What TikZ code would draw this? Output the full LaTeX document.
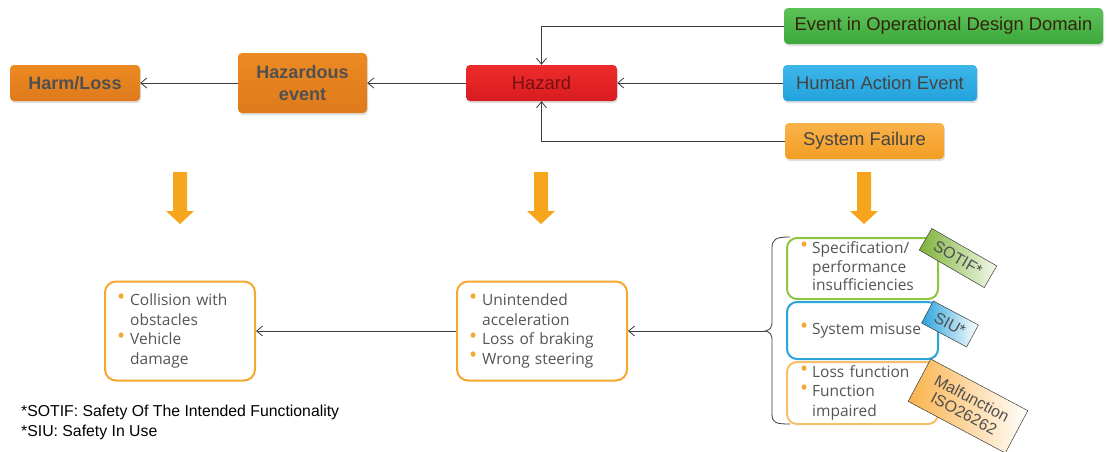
\documentclass[tikz,border=0pt]{standalone}
\usepackage{fontspec}
\setmainfont{Liberation Sans}
\newfontfamily\opensans{Open Sans}
\usepackage{tikz}
\usetikzlibrary{calc}
\usetikzlibrary{arrows.meta,shadows,positioning}

\definecolor{boxorange}{HTML}{EC8A22}
\definecolor{boxorangedk}{HTML}{DE7A1C}
\definecolor{hazred}{HTML}{EE2B2B}
\definecolor{hazreddk}{HTML}{D81C20}
\definecolor{oddgreen}{HTML}{5CC257}
\definecolor{oddgreendk}{HTML}{3DA83C}
\definecolor{humblue}{HTML}{3DB6EA}
\definecolor{humbluedk}{HTML}{22A2DB}
\definecolor{failorange}{HTML}{FAB24A}
\definecolor{failorangedk}{HTML}{F39E24}
\definecolor{bigorange}{HTML}{F6A51C}
\definecolor{listorange}{HTML}{F5A82E}
\definecolor{listgreen}{HTML}{8CC63F}
\definecolor{listblue}{HTML}{2BA4DC}
\definecolor{listlight}{HTML}{F9BF68}
\definecolor{textgray}{HTML}{505050}
\definecolor{listgray}{HTML}{555555}
\definecolor{linegray}{HTML}{3C3C3C}

\newcommand{\bul}{{\color{listorange}\raisebox{0.15ex}{\scalebox{1.4}{\textbullet}}}}

\tikzset{
  topbox/.style={rectangle,rounded corners=4pt,minimum height=36pt,inner sep=0pt,
    font=\fontsize{18.4}{22}\selectfont,text=textgray,align=center,
    drop shadow={shadow xshift=1pt,shadow yshift=-2pt,opacity=0.25}},
  listbox/.style={rectangle,rounded corners=11pt,line width=2pt,fill=white,
    inner ysep=0pt,align=left,font=\opensans\fontsize{15.5}{19.5}\selectfont,text=listgray},
  tagbox/.style={rectangle,draw=linegray,line width=0.5pt,inner sep=0pt,
    font=\fontsize{16}{17}\selectfont,text=textgray,align=center},
  link/.style={arrows={-Straight Barb[length=6pt,width=10pt]},line width=0.8pt,draw=linegray},
  bigarrow/.style={fill=bigorange}
}

\begin{document}
\begin{tikzpicture}[x=1pt,y=-1pt]

\useasboundingbox (0,0) rectangle (1107,451);
\coordinate (ORIGIN) at (0,0);

%draw top row
\node[topbox,minimum width=130pt,top color=boxorange,bottom color=boxorangedk,font=\fontsize{18}{22}\selectfont\bfseries] at ($(ORIGIN)+(75,83)$) (harm) {Harm/Loss};
\node[topbox,minimum width=129pt,minimum height=60pt,top color=boxorange,bottom color=boxorangedk,font=\fontsize{18}{22}\selectfont\bfseries] at ($(ORIGIN)+(302.5,83)$) (hazev) {Hazardous\\event};
\node[topbox,minimum width=151pt,top color=hazred,bottom color=hazreddk,text=hazreddk!55!black] at ($(ORIGIN)+(541.5,83)$) (hazard) {Hazard};

%%%%%%%

%draw sources of the hazard
\node[topbox,minimum width=319pt,top color=oddgreen,bottom color=oddgreendk,text=oddgreendk!25!black!85!red] at ($(ORIGIN)+(943.5,26)$) (odd) {Event in Operational Design Domain};
\node[topbox,minimum width=194pt,top color=humblue,bottom color=humbluedk,text=textgray!85!black] at ($(ORIGIN)+(880,83)$) (human) {Human Action Event};
\node[topbox,minimum width=159pt,top color=failorange,bottom color=failorangedk,text=textgray!85!black] at ($(ORIGIN)+(864.5,141)$) (sysfail) {System Failure};

\draw[link] (odd.west) -| (hazard.north);
\draw[link] (human.west) -- (hazard.east);
\draw[link] (sysfail.west) -| (hazard.south);
\draw[link] (hazard.west) -- (hazev.east);
\draw[link] (hazev.west) -- (harm.east);

%draw the big arrows down
\foreach \ax in {180,541,864}
  \fill[bigarrow] ({\ax-7},172) -- ({\ax+7},172) -- ({\ax+7},211) -- ({\ax+14},211)
    -- (\ax,224) -- ({\ax-14},211) -- ({\ax-7},211) -- cycle;

%draw bottom row
\node[listbox,draw=listorange,inner xsep=12pt,text width=126pt,minimum height=99pt] at ($(ORIGIN)+(180,331)$) (harmlist) {%
\begin{tabular}{@{}l@{\hspace{5pt}}l@{}}
\bul & Collision with\\
     & obstacles\\
\bul & Vehicle\\
     & damage
\end{tabular}};
\node[listbox,draw=listorange,inner xsep=12pt,text width=146pt,minimum height=99pt] at ($(ORIGIN)+(542,331)$) (hazlist) {%
\begin{tabular}{@{}l@{\hspace{5pt}}l@{}}
\bul & Unintended\\
     & acceleration\\
\bul & Loss of braking\\
\bul & Wrong steering
\end{tabular}};

% causes grouped by the brace
\node[listbox,draw=listgreen,rounded corners=10pt,inner xsep=13pt,text width=125pt,minimum height=61pt,font=\opensans\fontsize{15.5}{18.5}\selectfont] at ($(ORIGIN)+(862.5,268.5)$) (spec) {%
\begin{tabular}{@{}l@{\hspace{4pt}}l@{}}
\bul & Specification/\\
     & performance\\
     & insufficiencies
\end{tabular}};
\node[listbox,draw=listblue,rounded corners=10pt,inner xsep=13pt,text width=125pt,minimum height=57pt] at ($(ORIGIN)+(862.5,330.5)$) (misuse) {%
\begin{tabular}{@{}l@{\hspace{4pt}}l@{}}
\bul & System misuse
\end{tabular}};
\node[listbox,draw=listlight,rounded corners=10pt,inner xsep=13pt,text width=125pt,minimum height=62pt] at ($(ORIGIN)+(862.5,393)$) (lossfn) {%
\begin{tabular}{@{}l@{\hspace{4pt}}l@{}}
\bul & Loss function\\
\bul & Function\\
     & impaired
\end{tabular}};

%draw the brace
\coordinate (bracetip) at (765,331);
\draw[line width=0.8pt,linegray] (790,237) .. controls (776,237) and (772,239) .. (772,248) -- (772,321)
  .. controls (772,328) and (770,330) .. (bracetip) .. controls (770,332) and (772,334) .. (772,341)
  -- (772,414) .. controls (772,423) and (776,424) .. (790,424);

\draw[link] (bracetip) -- (hazlist.east);
\draw[link] (hazlist.west) -- (harmlist.east);

%draw the tags
\node[tagbox,minimum width=75pt,minimum height=25pt,rotate=-30,left color=listgreen!90!black,right color=listgreen!10] at ($(ORIGIN)+(958,258)$) (sotif) {SOTIF*};
\node[tagbox,minimum width=51pt,minimum height=25pt,rotate=-28,left color=listblue,right color=white] at ($(ORIGIN)+(950,324)$) (siu) {SIU*};
\node[tagbox,minimum width=110pt,minimum height=48pt,rotate=-28,left color=failorange,right color=white] at ($(ORIGIN)+(968,406)$) (malfn) {Malfunction\\ISO26262};

%footnote
\node[anchor=west,align=left,inner sep=0pt,font=\fontsize{15.8}{20}\selectfont] at ($(ORIGIN)+(21,422)$) (notes) {*SOTIF: Safety Of The Intended Functionality\\{}*SIU: Safety In Use};

\end{tikzpicture}
\end{document}
